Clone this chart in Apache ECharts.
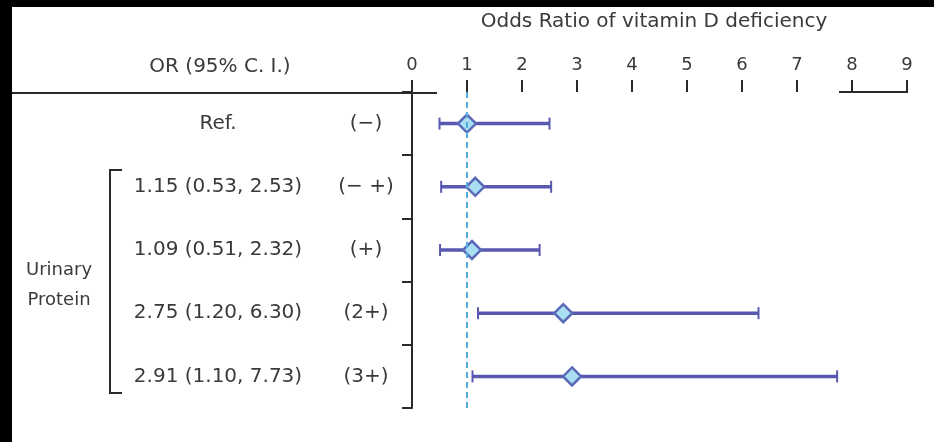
<!DOCTYPE html>
<html>
<head>
<meta charset="utf-8">
<script src="https://cdn.jsdelivr.net/npm/echarts@6/dist/echarts.min.js"></script>
<style>
html,body{margin:0;padding:0;background:#fff;}
#chart{width:934px;height:442px;}
</style>
</head>
<body>
<div id="chart"></div>
<script>
// ---- data ----
const rowLabels = ['Ref.', '1.15 (0.53, 2.53)', '1.09 (0.51, 2.32)', '2.75 (1.20, 6.30)', '2.91 (1.10, 7.73)'];
const grades = ['(\u2212)', '(\u2212 +)', '(+)', '(2+)', '(3+)'];
const oddsRatio = [1.00, 1.15, 1.09, 2.75, 2.91];
const ciLow = [0.50, 0.53, 0.51, 1.20, 1.10];
const ciHigh = [2.50, 2.53, 2.32, 6.30, 7.73];
const xMin = 0, xMax = 9, xStep = 1;
const axisTitle = 'Odds Ratio of vitamin D deficiency';
const headerText = 'OR (95% C. I.)';
const groupLabel = ['Urinary', 'Protein'];

const FONT = 'DejaVu Sans';
const TEXT = '#3a3a3a';
const LINE = '#2a2a2a';
const BAR = '#5858b0';

const chart = echarts.init(document.getElementById('chart'), null, {renderer: 'canvas'});

const errData = rowLabels.map((_, i) => [ciLow[i], ciHigh[i], i]);
const ptData = rowLabels.map((_, i) => [oddsRatio[i], i]);

const option = {
  backgroundColor: '#ffffff',
  animation: false,
  grid: {left: 412, right: 27, top: 92, bottom: 34},
  xAxis: {
    type: 'value', position: 'top', min: xMin, max: xMax, interval: xStep,
    name: axisTitle, nameLocation: 'middle', nameGap: 60,
    nameTextStyle: {fontFamily: FONT, fontSize: 20, color: TEXT, padding: [0, 11, 0, 0]},
    axisLine: {show: false},
    axisTick: {show: true, length: 12, lineStyle: {color: LINE, width: 2}},
    axisLabel: {fontFamily: FONT, fontSize: 18, color: TEXT, margin: 18},
    splitLine: {show: false}
  },
  yAxis: {
    type: 'category', data: rowLabels, inverse: true,
    axisLine: {show: true, lineStyle: {color: LINE, width: 2}},
    axisTick: {show: true, length: 10, lineStyle: {color: LINE, width: 2}},
    axisLabel: {
      margin: 11,
      formatter: (v, i) => '{a|' + rowLabels[i] + '}{b|' + grades[i] + '}',
      rich: {
        a: {width: 226, align: 'center', fontFamily: FONT, fontSize: 20, color: TEXT},
        b: {width: 70, align: 'center', fontFamily: FONT, fontSize: 20, color: TEXT}
      }
    },
    splitLine: {show: false}
  },
  series: [
    {
      type: 'custom',
      data: errData,
      encode: {x: [0, 1], y: 2},
      z: 3,
      renderItem: (params, api) => {
        const lo = api.coord([api.value(0), api.value(2)]);
        const hi = api.coord([api.value(1), api.value(2)]);
        const h = 6;
        return {
          type: 'group',
          children: [
            {type: 'line', shape: {x1: lo[0], y1: lo[1], x2: hi[0], y2: hi[1]}, style: {stroke: BAR, lineWidth: 3.5}},
            {type: 'line', shape: {x1: lo[0], y1: lo[1] - h, x2: lo[0], y2: lo[1] + h}, style: {stroke: BAR, lineWidth: 2}},
            {type: 'line', shape: {x1: hi[0], y1: hi[1] - h, x2: hi[0], y2: hi[1] + h}, style: {stroke: BAR, lineWidth: 2}}
          ]
        };
      }
    },
    {
      type: 'scatter',
      data: ptData,
      symbol: 'diamond',
      symbolSize: 18,
      z: 4,
      itemStyle: {color: '#a9def3', borderColor: '#5a6ab8', borderWidth: 2.5, opacity: 1},
      markLine: {
        silent: true, symbol: 'none', label: {show: false},
        lineStyle: {type: [6, 4], color: '#55aae0', width: 2},
        data: [{xAxis: 1}]
      }
    }
  ],
  graphic: [
    {type: 'text', x: 220, y: 67, style: {text: headerText, font: '20px "DejaVu Sans"', fill: TEXT, align: 'center', verticalAlign: 'middle'}},
    {type: 'line', shape: {x1: 12, y1: 93, x2: 437, y2: 93}, style: {stroke: LINE, lineWidth: 2}},
    {type: 'line', shape: {x1: 839, y1: 92, x2: 908, y2: 92}, style: {stroke: LINE, lineWidth: 2}},
    {type: 'polyline', shape: {points: [[122, 170], [110, 170], [110, 393], [122, 393]]}, style: {stroke: LINE, lineWidth: 2, fill: null}},
    {type: 'text', x: 59, y: 270, style: {text: groupLabel[0], font: '18px "DejaVu Sans"', fill: TEXT, align: 'center', verticalAlign: 'middle'}},
    {type: 'text', x: 59, y: 300, style: {text: groupLabel[1], font: '18px "DejaVu Sans"', fill: TEXT, align: 'center', verticalAlign: 'middle'}},
    {type: 'rect', shape: {x: 0, y: 0, width: 934, height: 7}, style: {fill: '#000'}, z: 100},
    {type: 'rect', shape: {x: 0, y: 0, width: 12, height: 442}, style: {fill: '#000'}, z: 100}
  ]
};
chart.setOption(option);
</script>
</body>
</html>
